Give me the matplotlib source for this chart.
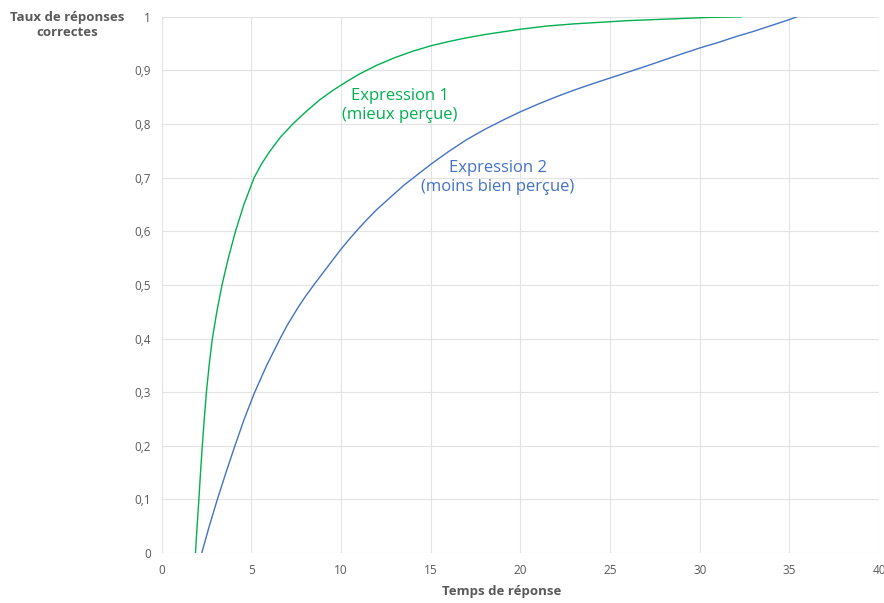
import matplotlib.pyplot as plt
import numpy as np

# Expression 1 (mieux perçue)
x_expr1 = [1.88, 1.97, 2.07, 2.16, 2.26, 2.37, 2.49, 2.64, 2.82, 3.07, 3.36, 3.71,
           4.11, 4.58, 5.15, 5.55, 6.0, 6.6, 7.3, 8.0, 8.8, 9.5, 10.2, 11, 12, 13,
           14, 15, 16, 17, 18, 19, 20, 21.5, 23, 24.5, 26, 27.5, 29, 30.5, 32.3]
y_expr1 = [0.0, 0.05, 0.1, 0.15, 0.2, 0.25, 0.3, 0.35, 0.4, 0.45, 0.5, 0.55,
           0.6, 0.65, 0.7, 0.725, 0.748, 0.775, 0.8, 0.822, 0.845, 0.862, 0.877, 0.893, 0.91, 0.924,
           0.936, 0.946, 0.954, 0.961, 0.967, 0.972, 0.977, 0.983, 0.987, 0.990, 0.993, 0.995, 0.997, 0.999, 1.0]

# Expression 2 (moins bien perçue)
x_expr2 = [2.23, 2.65, 3.1, 3.58, 4.08, 4.6, 5.16, 5.85, 6.6, 7.0, 7.6, 8.0, 8.5,
           9.0, 9.5, 10, 10.5, 11, 11.5, 12, 12.5, 13, 13.5, 14, 15, 16, 17, 18,
           19, 20, 21, 22, 23, 24, 25, 26, 27, 28, 29, 30, 31, 32, 33, 34, 35, 35.4]
y_expr2 = [0.0, 0.05, 0.1, 0.15, 0.2, 0.25, 0.298, 0.35, 0.4, 0.425, 0.458, 0.478, 0.501,
           0.523, 0.545, 0.567, 0.587, 0.606, 0.624, 0.641, 0.656, 0.671, 0.686, 0.699, 0.725, 0.749, 0.771, 0.790,
           0.807, 0.823, 0.8375, 0.851, 0.8635, 0.875, 0.886, 0.897, 0.908, 0.9195, 0.931, 0.942, 0.952, 0.963, 0.973, 0.984, 0.995, 1.0]

x_ticks = [0, 5, 10, 15, 20, 25, 30, 35, 40]
y_ticks = [0, 0.1, 0.2, 0.3, 0.4, 0.5, 0.6, 0.7, 0.8, 0.9, 1]
y_tick_labels = ["0", "0,1", "0,2", "0,3", "0,4", "0,5", "0,6", "0,7", "0,8", "0,9", "1"]

vert = "#00B050"
bleu = "#4472C4"
gris = "#595959"

plt.rcParams['font.family'] = ['Open Sans', 'DejaVu Sans']

fig = plt.figure(figsize=(8.84, 6.03), dpi=100)
ax = fig.add_axes([0.183, 0.083, 0.8115, 0.889])

ax.plot(x_expr1, y_expr1, color=vert, linewidth=1.0)
ax.plot(x_expr2, y_expr2, color=bleu, linewidth=1.0)

ax.set_xlim(0, 40)
ax.set_ylim(0, 1)
ax.set_xticks(x_ticks)
ax.set_yticks(y_ticks)
ax.set_yticklabels(y_tick_labels)
ax.tick_params(length=0, labelsize=8.5, labelcolor=gris, pad=8)
ax.grid(True, color="#E3E3E3", linewidth=0.8)
ax.set_axisbelow(True)
for s in ax.spines.values():
    s.set_visible(False)

ax.text(13.28, 0.835, "Expression 1\n(mieux perçue)", color=vert, fontsize=12,
        ha="center", va="center", linespacing=1.25)
ax.text(18.75, 0.70, "Expression 2\n(moins bien perçue)", color=bleu, fontsize=12,
        ha="center", va="center", linespacing=1.25)

fig.text(67 / 884, 1 - 25 / 603, "Taux de réponses\ncorrectes", color=gris, fontsize=9.5,
         fontweight="bold", ha="center", va="center", linespacing=1.25)
fig.text(502 / 884, 1 - 592 / 603, "Temps de réponse", color=gris, fontsize=9.5,
         fontweight="bold", ha="center", va="center")

fig.savefig("out.png", dpi=100)
